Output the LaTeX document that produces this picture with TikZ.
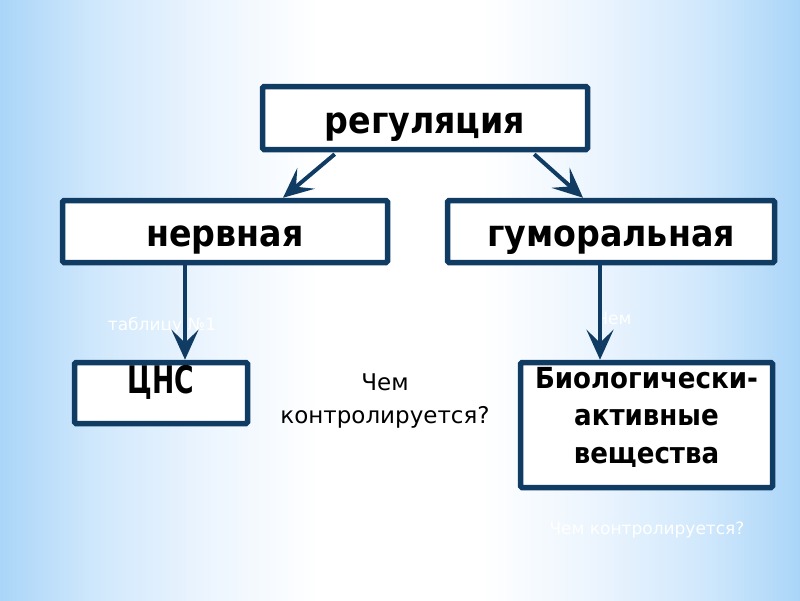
\documentclass[tikz,border=0pt]{standalone}
\usepackage{fontspec}
\setmainfont{DejaVu Sans}
\newfontfamily\condfont{DejaVu Sans Condensed}
\newfontfamily\narrowfont{DejaVu Sans Condensed}[FakeStretch=0.78]
\usetikzlibrary{arrows.meta}
\definecolor{navy}{RGB}{16,60,100}
\definecolor{skyblue}{RGB}{170,213,248}
\definecolor{paleblue}{RGB}{208,232,252}
\definecolor{faintblue}{RGB}{236,245,254}
\pgfdeclarehorizontalshading{slideshade}{100bp}{color(0bp)=(skyblue); color(25bp)=(skyblue); color(31bp)=(paleblue); color(38bp)=(faintblue); color(45bp)=(white); color(55bp)=(white); color(62bp)=(faintblue); color(69bp)=(paleblue); color(75bp)=(skyblue); color(100bp)=(skyblue)}

\begin{document}
\begin{tikzpicture}[x=1pt, y=-1pt,
    box/.style={draw=navy, line width=5.5pt, fill=white, rounded corners=1.5pt,
      inner sep=0pt, font=\condfont\bfseries\fontsize{37}{40}\selectfont,
      text height=38pt, text depth=8pt},
    biotext/.style={align=center, font=\condfont\bfseries\fontsize{29}{37.5}\selectfont},
    note/.style={align=center, font=\fontsize{23}{33}\selectfont},
    ghost/.style={text=white, font=\fontsize{17}{20}\selectfont},
    arr/.style={color=navy, line width=4pt,
      -{Stealth[length=30pt, width=27pt, inset=13pt]}}]
  \useasboundingbox (0,0) rectangle (800,600);
  \shade[shading=slideshade] (0,0) rectangle (800,600);

  % faint white notes behind the chart
  \node[ghost] (g1) at (431,205) {Чем контролируется?};
  \node[ghost] (g2) at (162,326) {таблицу №1};
  \node[ghost] (g3) at (614,318) {Чем};
  \node[ghost] (g4) at (647,530) {Чем контролируется?};

  \node[box, minimum width=325pt, minimum height=63pt] (reg) at (425,118) {регуляция};
  \node[box, minimum width=325pt, minimum height=62pt] (nerv) at (225,231.5) {нервная};
  \node[box, minimum width=327pt, minimum height=62pt] (gum) at (611,231.5) {гуморальная};
  \node[box, minimum width=173pt, minimum height=61pt, font=\narrowfont\bfseries\fontsize{38}{40}\selectfont,
    text height=20pt, text depth=20pt] (cns) at (161,393) {ЦНС};
  \node[box, minimum width=252pt, minimum height=125pt] (bio) at (646.5,425) {};
  \node[biotext] (biotxt) at ([yshift=8pt]bio.center) {Биологически-\\активные\\вещества};
  \node[note] (ask) at (385,401) {Чем\\контролируется?};

  \path[arr, shorten <=3pt]
    ([xshift=-88pt]reg.south) edge ([xshift=58pt]nerv.north)
    ([xshift=107pt]reg.south) edge ([xshift=-28pt]gum.north);
  \path[arr]
    ([xshift=-40pt]nerv.south) edge ([xshift=24pt]cns.north)
    ([xshift=-11pt]gum.south) edge ([xshift=-46.5pt]bio.north);
\end{tikzpicture}
\end{document}
